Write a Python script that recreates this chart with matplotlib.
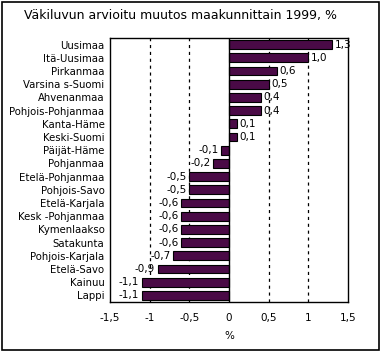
import matplotlib.pyplot as plt
from matplotlib.patches import Rectangle

regions = ["Uusimaa", "Itä-Uusimaa", "Pirkanmaa", "Varsina s-Suomi", "Ahvenanmaa",
           "Pohjois-Pohjanmaa", "Kanta-Häme", "Keski-Suomi", "Päijät-Häme", "Pohjanmaa",
           "Etelä-Pohjanmaa", "Pohjois-Savo", "Etelä-Karjala", "Kesk -Pohjanmaa",
           "Kymenlaakso", "Satakunta", "Pohjois-Karjala", "Etelä-Savo", "Kainuu", "Lappi"]
change = [1.3, 1.0, 0.6, 0.5, 0.4, 0.4, 0.1, 0.1, -0.1, -0.2,
          -0.5, -0.5, -0.6, -0.6, -0.6, -0.6, -0.7, -0.9, -1.1, -1.1]
xticks = [-1.5, -1, -0.5, 0, 0.5, 1, 1.5]
xtick_labels = ["-1,5", "-1", "-0,5", "0", "0,5", "1", "1,5"]

W, H = 381, 351
fig = plt.figure(figsize=(W / 100, H / 100), dpi=100)
fig.patches.append(Rectangle((0.004, 0.004), 0.99, 0.99, transform=fig.transFigure,
                             fill=False, edgecolor="black", linewidth=1.2))

ax = fig.add_axes([110 / W, 1 - 302 / H, 238 / W, 264 / H])
y = list(range(len(regions)))
ax.barh(y, change, height=0.68, color="#4a0a46", edgecolor="black", linewidth=0.8, zorder=3)

for x in [-1, -0.5, 0.5, 1]:
    ax.axvline(x, color="black", linestyle=(0, (2.5, 3)), linewidth=0.9, zorder=1)
ax.axvline(0, color="black", linewidth=1.0, zorder=4)

for yi, v in zip(y, change):
    txt = f"{v:.1f}".replace(".", ",")
    if v >= 0:
        ax.text(v + 0.03, yi, txt, va="center", ha="left", fontsize=7.5, zorder=5)
    else:
        ax.text(v - 0.03, yi, txt, va="center", ha="right", fontsize=7.5, zorder=5)

ax.set_xlim(-1.5, 1.5)
ax.set_ylim(len(regions) - 0.5, -0.5)
ax.set_yticks(y)
ax.set_yticklabels(regions, fontsize=7.3)
ax.set_xticks(xticks)
ax.set_xticklabels(xtick_labels, fontsize=7.5)
ax.tick_params(axis="y", length=0, pad=4)
ax.tick_params(axis="x", length=0, pad=8)
ax.set_xlabel("%", fontsize=7.5, labelpad=6)
for s in ax.spines.values():
    s.set_linewidth(1.0)

fig.text(180 / W, 1 - 15 / H, "Väkiluvun arvioitu muutos maakunnittain 1999, %",
         ha="center", va="center", fontsize=9)

fig.savefig("out.png", dpi=100)
